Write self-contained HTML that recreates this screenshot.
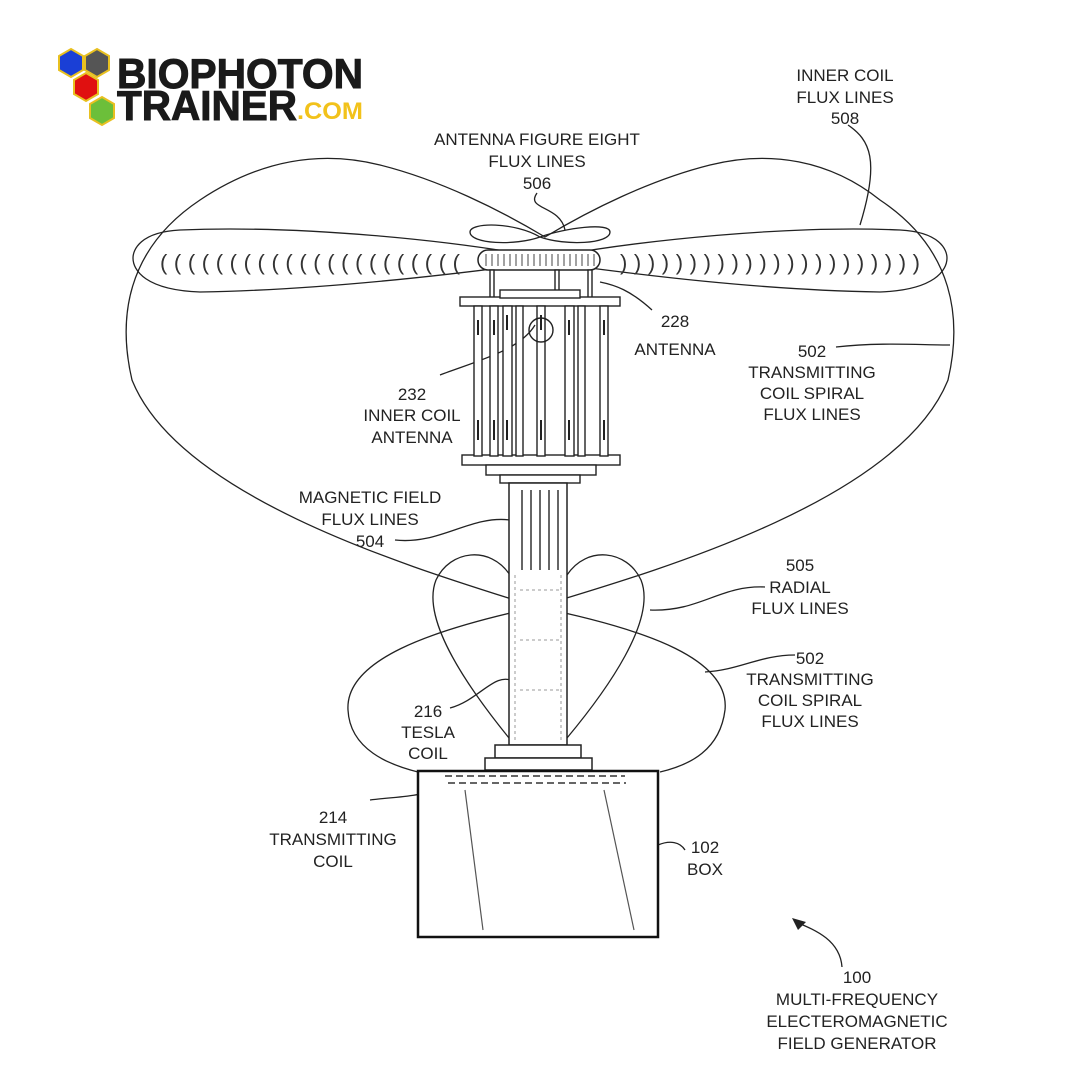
<!DOCTYPE html>
<html><head><meta charset="utf-8"><style>
html,body{margin:0;padding:0;background:#fff}
svg{display:block}
.t{font-family:"Liberation Sans",sans-serif;font-size:17px;fill:#222;text-anchor:middle}
</style></head><body>
<svg width="1080" height="1080" viewBox="0 0 1080 1080" xmlns="http://www.w3.org/2000/svg">
<rect width="1080" height="1080" fill="#fff"/>
<!-- logo -->
<g stroke="#e8c020" stroke-width="2">
<polygon points="71,49 83,56 83,70 71,77 59,70 59,56" fill="#1a3fd6"/>
<polygon points="97,49 109,56 109,70 97,77 85,70 85,56" fill="#555"/>
<polygon points="86,73 98,80 98,94 86,101 74,94 74,80" fill="#e01010"/>
<polygon points="102,97 114,104 114,118 102,125 90,118 90,104" fill="#6cbf3a"/>
</g>
<text x="117" y="88" font-family="Liberation Sans,sans-serif" font-weight="bold" font-size="42" fill="#1a1a1a" stroke="#1a1a1a" stroke-width="1" textLength="246" lengthAdjust="spacingAndGlyphs">BIOPHOTON</text>
<text x="117" y="120" font-family="Liberation Sans,sans-serif" font-weight="bold" font-size="42" fill="#1a1a1a" stroke="#1a1a1a" stroke-width="1" textLength="180" lengthAdjust="spacingAndGlyphs">TRAINER</text>
<text x="297" y="119" font-family="Liberation Sans,sans-serif" font-weight="bold" font-size="24" fill="#f2c21b" textLength="66" lengthAdjust="spacingAndGlyphs">.COM</text>

<g fill="none" stroke="#222" stroke-width="1.3">
<!-- big outer loop -->
<path d="M537,607 C420,570 180,500 132,380 C118,320 125,250 200,200 C260,160 320,150 380,165 C440,180 500,210 545,237 C590,210 650,180 710,165 C770,150 830,160 880,200 C955,250 962,320 948,380 C900,500 660,570 537,607"/>
<path d="M537,607 C650,630 730,660 725,710 C720,750 690,765 660,772"/>
<path d="M537,607 C430,630 345,660 348,710 C350,750 390,765 418,772"/>
<!-- petals -->
<path d="M545,258 C450,240 300,225 180,230 C140,232 133,250 133,258 C133,270 145,290 200,292 C320,290 450,275 545,262"/>
<path d="M545,258 C640,240 790,225 900,230 C940,232 947,250 947,258 C947,270 935,290 880,292 C760,290 640,275 545,262"/>
<path d="M540,237 C515,222 470,222 470,232 C470,244 515,246 540,237 C565,228 610,222 610,232 C610,244 565,246 540,237"/>
<!-- heart -->
<path d="M510,575 C490,545 450,550 436,580 C420,620 470,690 509,738"/>
<path d="M567,575 C587,545 627,550 641,580 C657,620 607,690 567,738"/>
<!-- leaders -->
<path d="M848,125 C870,140 880,160 860,225"/>
<path d="M537,193 C525,210 560,205 565,230"/>
<path d="M652,310 C630,290 615,285 600,282"/>
<path d="M836,347 C880,342 920,345 950,345"/>
<path d="M440,375 C480,360 520,350 535,325"/>
<path d="M395,540 C440,545 470,515 510,520"/>
<path d="M650,610 C700,612 720,585 765,587"/>
<path d="M705,672 C740,670 760,655 795,655"/>
<path d="M450,708 C480,700 495,670 515,682"/>
<path d="M370,800 C400,796 420,798 445,785"/>
<path d="M658,845 C670,840 680,842 685,850"/>
<path d="M842,967 C840,940 815,930 796,922"/>
</g>
<polygon points="792,918 806,922 798,930" fill="#222"/>
<g font-family="Liberation Sans,sans-serif" font-size="22" fill="#333">
<text x="160" y="270" textLength="300" lengthAdjust="spacing">((((((((((((((((((((((</text>
<text x="620" y="270" textLength="300" lengthAdjust="spacing">))))))))))))))))))))))</text>
</g>
<rect x="478" y="250" width="122" height="20" rx="10" fill="#fff" stroke="#222" stroke-width="1.5"/>
<g stroke="#444" stroke-width="1">
<path d="M486,254v12M492,254v12M498,254v12M504,254v12M510,254v12M516,254v12M522,254v12M528,254v12M534,254v12M540,254v12M546,254v12M552,254v12M558,254v12M564,254v12M570,254v12M576,254v12M582,254v12M588,254v12M594,254v12"/>
</g>
<g fill="#fff" stroke="#222" stroke-width="1.4">
<rect x="490" y="270" width="4" height="30"/><rect x="555" y="270" width="4" height="30"/><rect x="588" y="270" width="4" height="30"/>
<rect x="460" y="297" width="160" height="9"/>
<rect x="500" y="290" width="80" height="8"/>
<rect x="462" y="455" width="158" height="10"/>
<rect x="486" y="465" width="110" height="10"/>
<rect x="500" y="475" width="80" height="8"/>
<rect x="474" y="306" width="8" height="150"/><rect x="490" y="306" width="8" height="150"/><rect x="503" y="306" width="9" height="150"/><rect x="516" y="306" width="7" height="150"/>
<rect x="537" y="306" width="8" height="150"/>
<rect x="565" y="306" width="9" height="150"/><rect x="578" y="306" width="7" height="150"/><rect x="600" y="306" width="8" height="150"/>
<ellipse cx="541" cy="330" rx="12" ry="12" fill="none"/>
</g>
<g stroke="#222" stroke-width="2">
<path d="M478,320v15M494,320v15M507,315v15M541,315v15M569,320v15M604,320v15M478,420v20M494,420v20M507,420v20M541,420v20M569,420v20M604,420v20"/>
</g>
<rect x="509" y="483" width="58" height="262" fill="#fff" stroke="#222" stroke-width="1.5"/>
<g stroke="#333" stroke-width="1.5"><path d="M522,490v80M531,490v80M540,490v80M549,490v80M558,490v80"/></g>
<g stroke="#999" stroke-width="1" stroke-dasharray="3,3"><path d="M515,575v165M561,575v165M520,590h40M520,640h40M520,690h40"/></g>
<rect x="495" y="745" width="86" height="13" fill="#fff" stroke="#222" stroke-width="1.5"/>
<rect x="485" y="758" width="107" height="12" fill="#fff" stroke="#222" stroke-width="1.5"/>
<rect x="418" y="771" width="240" height="166" fill="#fff" stroke="#111" stroke-width="2.5"/>
<g stroke="#333" stroke-width="1.5" stroke-dasharray="7,4" fill="none"><path d="M445,776h180M448,783h178"/></g>
<g stroke="#555" stroke-width="1.2"><path d="M465,790l18,140M604,790l30,140"/></g>
<g>
<text class="t" x="845" y="81">INNER COIL</text><text class="t" x="845" y="103">FLUX LINES</text><text class="t" x="845" y="124">508</text>
<text class="t" x="537" y="145">ANTENNA FIGURE EIGHT</text><text class="t" x="537" y="167">FLUX LINES</text><text class="t" x="537" y="189">506</text>
<text class="t" x="675" y="327">228</text><text class="t" x="675" y="355">ANTENNA</text>
<text class="t" x="812" y="357">502</text><text class="t" x="812" y="378">TRANSMITTING</text><text class="t" x="812" y="399">COIL SPIRAL</text><text class="t" x="812" y="420">FLUX LINES</text>
<text class="t" x="412" y="400">232</text><text class="t" x="412" y="421">INNER COIL</text><text class="t" x="412" y="443">ANTENNA</text>
<text class="t" x="370" y="503">MAGNETIC FIELD</text><text class="t" x="370" y="525">FLUX LINES</text><text class="t" x="370" y="547">504</text>
<text class="t" x="800" y="571">505</text><text class="t" x="800" y="593">RADIAL</text><text class="t" x="800" y="614">FLUX LINES</text>
<text class="t" x="810" y="664">502</text><text class="t" x="810" y="685">TRANSMITTING</text><text class="t" x="810" y="706">COIL SPIRAL</text><text class="t" x="810" y="727">FLUX LINES</text>
<text class="t" x="428" y="717">216</text><text class="t" x="428" y="738">TESLA</text><text class="t" x="428" y="759">COIL</text>
<text class="t" x="333" y="823">214</text><text class="t" x="333" y="845">TRANSMITTING</text><text class="t" x="333" y="867">COIL</text>
<text class="t" x="705" y="853">102</text><text class="t" x="705" y="875">BOX</text>
<text class="t" x="857" y="983">100</text><text class="t" x="857" y="1005">MULTI-FREQUENCY</text><text class="t" x="857" y="1027">ELECTEROMAGNETIC</text><text class="t" x="857" y="1049">FIELD GENERATOR</text>
</g>
</svg>
</body></html>
